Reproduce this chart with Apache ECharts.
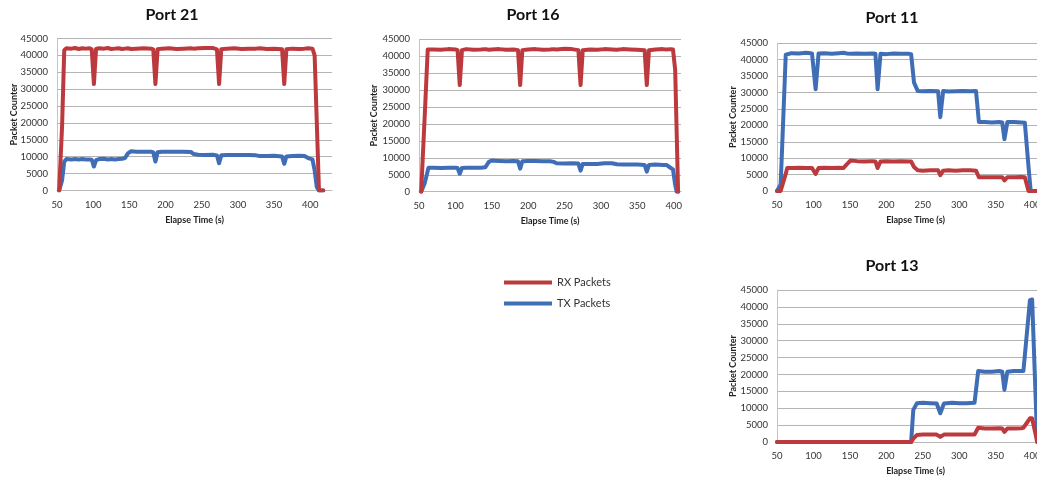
<!DOCTYPE html>
<html>
<head>
<meta charset="utf-8">
<title>Port packet counters</title>
<script src="https://cdn.jsdelivr.net/npm/echarts@6/dist/echarts.min.js"></script>
<style>
  html, body { margin: 0; padding: 0; background: #ffffff; }
  #chart { width: 1037px; height: 480px; }
</style>
</head>
<body>
<div id="chart"></div>
<script>
// Elapsed time (s) and packet counts per port
const p21Time = [53,57,60,63,70,75,80,85,90,95,98,101,104,108,115,120,125,130,135,140,144,148,152,160,170,180,183,186,189,195,205,215,225,235,239,245,255,265,271,274,277,285,295,305,315,325,330,340,350,361,364,367,375,385,392,397,403,406,409,412,418];
const p21Rx = [0,19000,41500,42100,42000,42200,41900,42100,42000,42100,41800,31500,41900,42100,42000,42200,41900,42000,42100,41900,42000,42100,41900,42000,42100,42000,41800,31500,41800,42000,42100,41900,42000,42100,42000,42100,42200,42200,41800,31500,41800,42000,42100,41900,42000,42000,42100,41900,42000,41800,31500,41800,42000,41900,42000,42100,42000,40000,20000,0,0];
const p21Tx = [0,3000,8500,9300,9200,9300,9200,9300,9200,9200,9100,7100,9000,9300,9400,9200,9300,9200,9300,9400,9600,11000,11600,11500,11500,11500,11300,8600,11300,11500,11500,11500,11500,11400,10800,10600,10500,10600,10400,8100,10400,10500,10500,10500,10500,10400,10200,10200,10300,10100,7900,10100,10200,10300,10200,9600,9200,6000,1000,0,0];

const p16Time = [53,55,58,62,63,70,80,90,100,103,106,109,115,125,135,141,146,150,160,170,180,186,189,192,200,210,220,230,235,239,250,260,269,272,275,285,295,305,315,322,330,340,350,360,363,366,375,385,390,396,399,402,404,406];
const p16Rx = [0,9300,23000,42000,42100,42000,41900,42100,42000,41800,31500,41800,42100,41900,42000,42100,41900,42000,42100,41900,42000,41800,31500,41800,42000,42100,41900,42000,42100,42000,42200,42100,41800,31500,41800,42000,41900,42100,42000,41900,42100,42000,41900,41800,31500,41800,42000,42100,42000,42100,42000,36000,18000,0];
const p16Tx = [0,0,2600,6200,7100,7100,7000,7100,7100,7000,5300,7000,7100,7100,7100,7200,8800,9200,9100,9000,9100,9000,6800,9000,9100,9100,9000,9000,8800,8400,8300,8400,8300,6200,8200,8200,8200,8400,8400,8100,8000,8000,8000,7900,5900,7900,8000,7900,7900,7000,6600,2000,0,0];

const p11Time = [50,55,57,62,64,70,80,90,98,103,107,115,125,135,141,146,151,160,170,180,185,188,192,200,210,220,230,234,238,243,250,260,271,274,278,285,295,305,315,323,327,335,345,355,359,362,366,375,385,390,395,398,410,430];
const p11Rx = [0,0,0,5200,7000,7000,7100,7000,7000,5200,7000,7100,7000,7100,7000,8200,9300,9100,9000,9100,9000,7000,9000,9100,9000,9100,9000,9000,7300,6300,6200,6300,6300,4800,6200,6300,6200,6300,6300,6200,4200,4200,4200,4200,4200,3200,4200,4200,4300,4200,0,0,0,0];
const p11Tx = [0,2000,13000,41500,42000,42000,41900,42100,41900,31000,41900,42000,41800,42000,42100,41900,41800,41900,41800,41900,41800,31000,41800,41700,41900,41800,41800,41700,33000,30500,30400,30500,30400,22500,30500,30300,30400,30500,30400,30500,21000,21000,20900,21000,20900,15800,21000,21000,20900,20800,7500,0,0,0];

const p13Time = [50,100,150,200,234,237,242,250,260,269,274,279,290,300,310,321,326,335,345,355,359,362,366,375,385,388,390,397,400,402,407,430];
const p13Rx = [0,0,0,0,0,1000,2100,2200,2200,2200,1500,2200,2200,2200,2200,2200,4200,4000,4000,4100,4000,3000,4000,4000,4100,4200,4800,7000,7000,6500,0,0];
const p13Tx = [0,0,0,0,0,9500,11500,11600,11500,11400,8500,11400,11600,11500,11500,11600,21000,20800,20800,21000,20800,15500,20800,21000,21000,21000,21000,42000,42200,41800,0,0];

const seriesNames = ['RX Packets', 'TX Packets'];
const xAxisTitle = 'Elapse Time (s)';
const yAxisTitle = 'Packet Counter';

const RX_COLOR = '#BC3A3E';
const TX_COLOR = '#3F6EB6';
const FONT = 'Lato, "Open Sans", sans-serif';

// Layout of each small chart: plot box, x range and title position
const panels = [
  { title: 'Port 21', time: p21Time, rx: p21Rx, tx: p21Tx, left: 57, top: 38.5, width: 275, height: 152, xMax: 430, titleX: 172, titleY: 7, nameGap: 38 },
  { title: 'Port 16', time: p16Time, rx: p16Rx, tx: p16Tx, left: 419, top: 39.3, width: 262, height: 152.4, xMax: 410, titleX: 533, titleY: 7, nameGap: 40 },
  { title: 'Port 11', time: p11Time, rx: p11Rx, tx: p11Tx, left: 777, top: 43.3, width: 277, height: 147.7, xMax: 430, titleX: 892, titleY: 10, nameGap: 39 },
  { title: 'Port 13', time: p13Time, rx: p13Rx, tx: p13Tx, left: 777, top: 290, width: 277, height: 152, xMax: 430, titleX: 892, titleY: 258, nameGap: 39 }
];

const pairs = (xs, ys) => xs.map((x, i) => [x, ys[i]]);

const option = {
  animation: false,
  backgroundColor: '#ffffff',
  title: [],
  grid: [],
  xAxis: [],
  yAxis: [],
  series: [],
  legend: {
    data: seriesNames,
    orient: 'vertical',
    left: 499,
    top: 272,
    icon: 'rect',
    itemWidth: 48,
    itemHeight: 4,
    itemGap: 10,
    textStyle: { fontFamily: FONT, fontSize: 11, color: '#333' }
  }
};

panels.forEach((p, i) => {
  option.title.push({
    text: p.title,
    left: p.titleX,
    top: p.titleY,
    padding: 0,
    textAlign: 'center',
    textStyle: { fontFamily: FONT, fontSize: 16, fontWeight: 'bold', color: '#111' }
  });
  option.grid.push({
    left: p.left, top: p.top, width: p.width, height: p.height,
    containLabel: false,
    outerBoundsMode: 'none'
  });
  option.xAxis.push({
    type: 'value',
    gridIndex: i,
    min: 50,
    max: p.xMax,
    interval: 50,
    name: xAxisTitle,
    nameLocation: 'middle',
    nameGap: 25,
    nameMoveOverlap: false,
    nameTextStyle: { fontFamily: FONT, fontSize: 9, fontWeight: 'bold', color: '#222' },
    axisLine: { show: true, lineStyle: { color: '#b8b8b8', width: 1 } },
    axisTick: { show: false },
    splitLine: { show: false },
    axisLabel: {
      fontFamily: FONT, fontSize: 9.5, color: '#333', margin: 9,
      showMaxLabel: false,
      formatter: v => (v % 50 === 0 ? String(v) : '')
    }
  });
  option.yAxis.push({
    type: 'value',
    gridIndex: i,
    min: 0,
    max: 45000,
    interval: 5000,
    name: yAxisTitle,
    nameLocation: 'middle',
    nameGap: p.nameGap,
    nameMoveOverlap: false,
    nameTextStyle: { fontFamily: FONT, fontSize: 9, fontWeight: 'bold', color: '#222' },
    axisLine: { show: true, lineStyle: { color: '#c4c4c4', width: 1 } },
    axisTick: { show: false },
    splitLine: { show: true, lineStyle: { color: '#b4b4b4', width: 1 } },
    axisLabel: { fontFamily: FONT, fontSize: 9.5, color: '#333', margin: 9, formatter: v => String(v) }
  });
  // TX first so RX is drawn above it where both sit at zero
  option.series.push({
    name: seriesNames[1],
    type: 'line',
    xAxisIndex: i,
    yAxisIndex: i,
    data: pairs(p.time, p.tx),
    showSymbol: false,
    symbol: 'none',
    color: TX_COLOR,
    lineStyle: { color: TX_COLOR, width: 4, join: 'round', cap: 'round' }
  });
  option.series.push({
    name: seriesNames[0],
    type: 'line',
    xAxisIndex: i,
    yAxisIndex: i,
    data: pairs(p.time, p.rx),
    showSymbol: false,
    symbol: 'none',
    color: RX_COLOR,
    lineStyle: { color: RX_COLOR, width: 4, join: 'round', cap: 'round' }
  });
});

const chart = echarts.init(document.getElementById('chart'), null, { renderer: 'canvas' });
chart.setOption(option);
</script>
</body>
</html>
